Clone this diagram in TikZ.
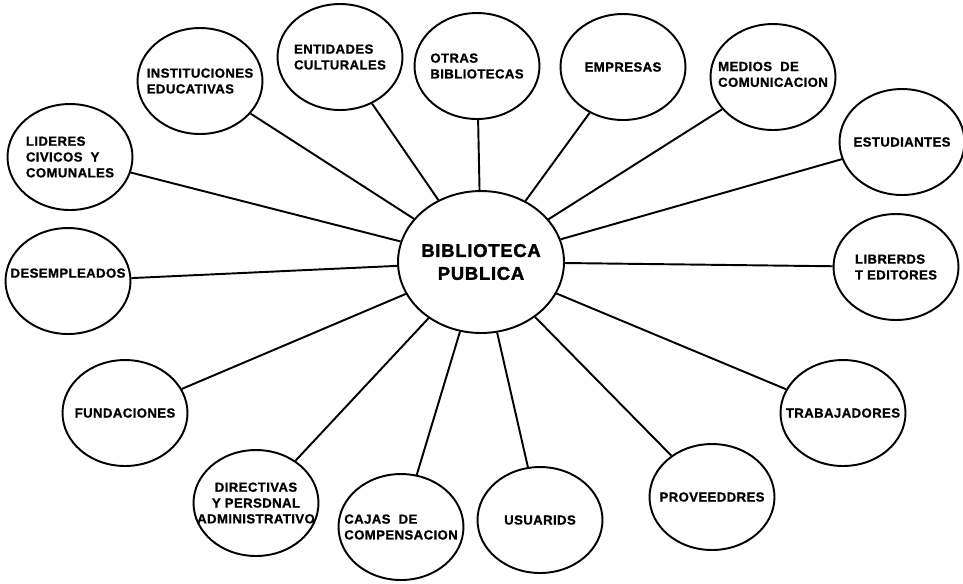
\documentclass[tikz,border=0pt]{standalone}
\usepackage{fontspec}
\setmainfont{Liberation Sans}
\usetikzlibrary{shapes.geometric}

\tikzset{
  grupo/.style={ellipse, draw, line width=1.1pt, minimum width=2.5cm, minimum height=2.12cm, inner sep=0pt},
  rotulo/.style={font=\fontsize{7.5}{9}\selectfont\bfseries\addfontfeature{FakeBold=1,LetterSpace=3}, align=left, inner sep=0pt},
  enlace/.style={line width=1.1pt},
}

\begin{document}
\begin{tikzpicture}[x=0.02cm, y=-0.02cm]
\useasboundingbox (0,0) rectangle (963,583);

% centro
\node[grupo, minimum width=3.32cm, minimum height=2.84cm,
  label={[rotulo, font=\fontsize{10.5}{13}\selectfont\bfseries\addfontfeature{FakeBold=2,LetterSpace=4}, align=center]center:{BIBLIOTECA\\PUBLICA}}] (bib) at (481,262) {};

% grupos alrededor
\node[grupo, label={[rotulo]center:{LIDERES\\CIVICOS\ \ Y\\COMUNALES}}] (lideres) at (70,157) {};
\node[grupo, label={[rotulo]center:{INSTITUCIONES\\EDUCATIVAS}}] (inst) at (200,81) {};
\node[grupo, label={[rotulo]center:{ENTIDADES\\CULTURALES}}] (entid) at (340,57) {};
\node[grupo, label={[rotulo]center:{OTRAS\\BIBLIOTECAS}}] (otras) at (477,66) {};
\node[grupo, label={[rotulo]center:{EMPRESAS}}] (empr) at (623,67) {};
\node[grupo, label={[rotulo, yshift=1.5pt]center:{MEDIOS\ \ DE\\COMUNICACION}}] (medios) at (773,77) {};
\node[grupo, label={[rotulo]center:{ESTUDIANTES}}] (estud) at (902,142) {};
\node[grupo, label={[rotulo]center:{LIBRERDS\\T EDITORES}}] (libr) at (896,267) {};
\node[grupo, label={[rotulo]center:{TRABAJADORES}}] (trab) at (843,413) {};
\node[grupo, label={[rotulo]center:{PROVEEDDRES}}] (prov) at (712,497) {};
\node[grupo, label={[rotulo]center:{USUARIDS}}] (usu) at (540,520) {};
\node[grupo, label={[rotulo]center:{CAJAS\ \ DE\\COMPENSACION}}] (cajas) at (401,527) {};
\node[grupo, label={[rotulo, align=center]center:{DIRECTIVAS\\Y PERSDNAL\\ADMINISTRATIVO}}] (direct) at (256,503) {};
\node[grupo, label={[rotulo]center:{FUNDACIONES}}] (fund) at (125,413) {};
\node[grupo, label={[rotulo, yshift=4.5pt]center:{DESEMPLEADOS}}] (desemp) at (68,281) {};

\draw [enlace]
(bib) edge (lideres)
(bib) edge (inst)
(bib) edge (entid)
(bib) edge (otras)
(bib) edge (empr)
(bib) edge (medios)
(bib) edge (estud)
(bib) edge (libr)
(bib) edge (trab)
(bib) edge (prov)
(bib) edge (usu)
(bib) edge (cajas)
(bib) edge (direct)
(bib) edge (fund)
(bib) edge (desemp);

\end{tikzpicture}
\end{document}
